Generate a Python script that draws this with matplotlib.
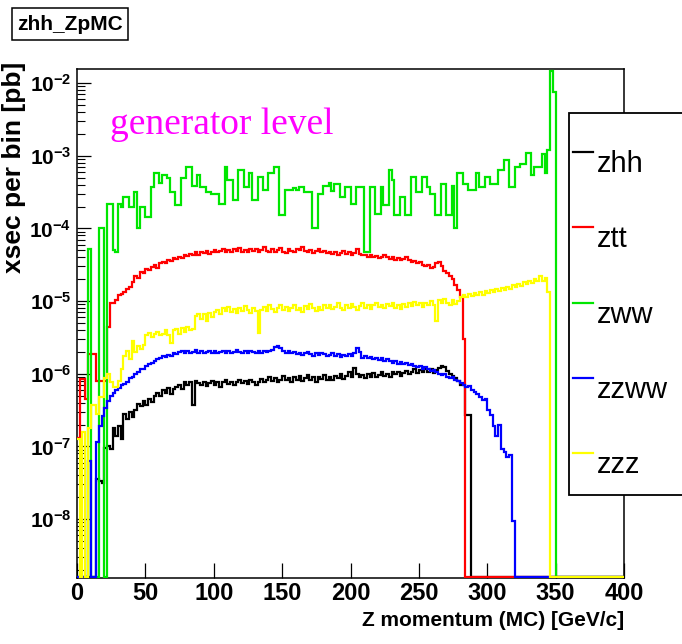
import numpy as np
import matplotlib
matplotlib.use("Agg")
import matplotlib.pyplot as plt
from matplotlib import font_manager as fm
from matplotlib.ticker import FixedLocator, NullLocator, NullFormatter, FuncFormatter
from matplotlib.patches import Rectangle
from matplotlib.lines import Line2D

# ---------------------------------------------------------------- data
BIN_WIDTH = 2.0          # GeV/c per bin
N_BINS = 200             # 0 .. 400 GeV/c
edges = np.arange(N_BINS + 1) * BIN_WIDTH

series_names = ["zhh", "ztt", "zww", "zzww", "zzz"]
series_colors = ["#000000", "#ff0000", "#00e600", "#0000ff", "#ffff00"]

# log10(xsec per bin [pb]) for consecutive 2 GeV/c bins starting at 0; None = empty bin
zhh_log10 = [
    None, None, None, None, None, None, None, -7.45, -7.48, -7.50,
    -7.02, -7.00, -7.04, -6.75, -6.85, -6.72, -6.90, -6.55, -6.62, -6.52,
    -6.60, -6.50, -6.42, -6.45, -6.38, -6.43, -6.35, -6.39, -6.30, -6.26,
    -6.31, -6.22, -6.26, -6.20, -6.28, -6.21, -6.18, -6.15, -6.21, -6.12,
    -6.16, -6.12, -6.43, -6.10, -6.13, -6.16, -6.12, -6.17, -6.13, -6.10,
    -6.15, -6.11, -6.18, -6.12, -6.09, -6.14, -6.11, -6.16, -6.12, -6.08,
    -6.13, -6.10, -6.14, -6.09, -6.12, -6.16, -6.11, -6.07, -6.12, -6.09,
    -6.04, -6.10, -6.06, -6.12, -6.08, -6.03, -6.09, -6.06, -6.11, -6.05,
    -6.08, -6.03, -6.10, -6.06, -6.02, -6.08, -6.05, -6.11, -6.04, -6.07,
    -6.02, -6.08, -6.04, -6.09, -6.03, -6.06, -6.01, -6.07, -6.03, -5.98,
    -6.04, -5.92, -6.00, -6.05, -6.02, -6.06, -6.01, -6.04, -5.99, -6.05,
    -6.02, -5.98, -6.03, -6.00, -6.04, -5.97, -6.01, -5.98, -6.03, -5.99,
    -5.96, -6.01, -5.97, -5.94, -5.99, -5.95, -5.98, -5.93, -5.97, -5.94,
    -5.99, -5.95, -5.92, -5.90, -5.91, -5.96, -6.00, -6.03, -6.06, -6.10,
    -6.15, -6.15, -6.57, -6.57,
]

ztt_log10 = [
    -6.88, -6.07, -6.07, -6.35, -5.73, -5.73, -5.73, -6.10, -6.10, -6.10,
    -6.10, -5.35, -5.03, -5.02, -4.98, -4.92, -4.90, -4.88, -4.84, -4.80,
    -4.74, -4.66, -4.68, -4.60, -4.62, -4.56, -4.57, -4.53, -4.51, -4.54,
    -4.48, -4.46, -4.47, -4.43, -4.45, -4.41, -4.42, -4.39, -4.41, -4.37,
    -4.38, -4.35, -4.37, -4.33, -4.36, -4.32, -4.34, -4.31, -4.35, -4.32,
    -4.30, -4.33, -4.31, -4.28, -4.32, -4.30, -4.33, -4.29, -4.31, -4.27,
    -4.32, -4.30, -4.33, -4.28, -4.31, -4.29, -4.33, -4.30, -4.25, -4.31,
    -4.33, -4.28, -4.32, -4.30, -4.27, -4.32, -4.34, -4.29, -4.31, -4.33,
    -4.28, -4.30, -4.26, -4.31, -4.33, -4.30, -4.34, -4.31, -4.29, -4.33,
    -4.31, -4.34, -4.32, -4.35, -4.33, -4.36, -4.34, -4.31, -4.35, -4.33,
    -4.36, -4.34, -4.28, -4.35, -4.37, -4.36, -4.39, -4.37, -4.40, -4.38,
    -4.41, -4.39, -4.36, -4.40, -4.42, -4.40, -4.43, -4.41, -4.44, -4.42,
    -4.40, -4.44, -4.46, -4.45, -4.48, -4.46, -4.50, -4.52, -4.51, -4.54,
    -4.53, -4.48, -4.46, -4.52, -4.58, -4.62, -4.66, -4.70, -4.78, -4.85,
    -4.95, -5.52,
]

zww_log10 = [
    None, None, None, None, -4.29, None, None, None, -4.00, -4.00,
    None, -3.66, -3.66, -4.30, -4.33, -3.66, -3.70, -3.57, -3.57, -3.71,
    -3.71, -3.50, -3.99, -3.71, -3.71, -3.85, -3.85, -3.43, -3.24, -3.24,
    -3.37, -3.27, -3.27, -3.30, -3.50, -3.50, -3.68, -3.68, -3.31, -3.31,
    -3.16, -3.16, -3.41, -3.41, -3.27, -3.43, -3.43, -3.50, -3.50, -3.52,
    -3.52, -3.52, -3.66, -3.66, -3.16, -3.33, -3.33, -3.61, -3.61, -3.20,
    -3.20, -3.43, -3.43, -3.24, -3.61, -3.61, -3.29, -3.29, -3.47, -3.47,
    -3.24, -3.24, -3.16, -3.16, -3.82, -3.82, -3.47, -3.47, -3.47, -3.45,
    -3.47, -3.43, -3.43, -3.50, -3.50, -3.50, -4.00, -4.00, -3.52, -3.52,
    -3.41, -3.41, -3.38, -3.48, -3.39, -3.39, -3.57, -3.57, -3.43, -3.43,
    -3.66, -3.66, -3.43, -3.43, -3.43, -4.33, -4.33, -3.43, -3.43, -3.80,
    -3.80, -3.43, -3.68, -3.68, -3.20, -3.33, -3.82, -3.82, -3.57, -3.57,
    -3.82, -3.82, -3.29, -3.29, -3.50, -3.50, -3.29, -3.29, -3.43, -3.52,
    -3.52, -3.82, -3.82, -3.39, -3.39, -3.82, -3.82, -3.41, -4.00, -3.24,
    -3.24, -3.39, -3.39, -3.47, -3.47, -3.47, -3.24, -3.43, -3.43, -3.29,
    -3.29, -3.39, -3.39, -3.39, -3.20, -3.20, -3.06, -3.06, -3.43, -3.43,
    -3.16, -3.16, -3.11, -3.11, -2.96, -2.96, -3.27, -3.16, -3.16, -3.16,
    -2.98, -3.24, -2.92, -1.84, -2.12,
]

zzww_log10 = [
    None, None, None, None, -7.20, None, None, -6.94, -6.72, -6.58,
    -6.47, -6.38, -6.30, -6.27, -6.22, -6.20, -6.16, -6.14, -6.11, -6.06,
    -6.04, -6.00, -5.98, -5.94, -5.93, -5.90, -5.87, -5.85, -5.82, -5.80,
    -5.78, -5.76, -5.77, -5.74, -5.75, -5.72, -5.73, -5.70, -5.68, -5.71,
    -5.69, -5.72, -5.70, -5.67, -5.71, -5.69, -5.72, -5.70, -5.68, -5.71,
    -5.69, -5.72, -5.70, -5.68, -5.71, -5.69, -5.72, -5.70, -5.67, -5.70,
    -5.72, -5.69, -5.71, -5.68, -5.70, -5.72, -5.69, -5.71, -5.68, -5.70,
    -5.69, -5.67, -5.63, -5.62, -5.64, -5.68, -5.71, -5.69, -5.72, -5.70,
    -5.73, -5.71, -5.74, -5.72, -5.70, -5.73, -5.75, -5.72, -5.74, -5.71,
    -5.73, -5.76, -5.74, -5.72, -5.75, -5.73, -5.77, -5.74, -5.76, -5.73,
    -5.75, -5.72, -5.65, -5.70, -5.78, -5.76, -5.79, -5.77, -5.80, -5.78,
    -5.81, -5.79, -5.83, -5.80, -5.82, -5.85, -5.83, -5.86, -5.84, -5.87,
    -5.85, -5.88, -5.87, -5.89, -5.91, -5.90, -5.93, -5.91, -5.94, -5.96,
    -5.95, -5.98, -6.00, -6.02, -6.01, -6.04, -6.06, -6.05, -6.08, -6.10,
    -6.13, -6.15, -6.18, -6.17, -6.22, -6.25, -6.28, -6.32, -6.36, -6.35,
    -6.50, -6.57, -6.72, -6.85, -6.70, -7.04, -7.08, -7.15, -7.12, -8.02,
]

zzz_log10 = [
    -6.90, None, -6.80, None, -6.75, -6.43, -6.43, -6.55, -6.32, -6.32,
    -6.06, -6.00, -6.12, -6.18, -6.18, -6.10, -5.93, -5.75, -5.69, -5.80,
    -5.55, -5.70, -5.62, -5.66, -5.60, -5.47, -5.44, -5.50, -5.45, -5.42,
    -5.47, -5.45, -5.40, -5.46, -5.58, -5.40, -5.38, -5.45, -5.37, -5.43,
    -5.35, -5.40, -5.38, -5.21, -5.18, -5.25, -5.18, -5.28, -5.16, -5.22,
    -5.15, -5.12, -5.18, -5.10, -5.14, -5.08, -5.15, -5.11, -5.17, -5.09,
    -5.13, -5.07, -5.12, -5.16, -5.10, -5.14, -5.44, -5.12, -5.08, -5.13,
    -5.06, -5.11, -5.15, -5.09, -5.05, -5.12, -5.08, -5.14, -5.10, -5.06,
    -5.12, -5.09, -5.15, -5.07, -5.11, -5.04, -5.10, -5.13, -5.08, -5.12,
    -5.06, -5.10, -5.05, -5.11, -5.08, -5.03, -5.09, -5.12, -5.06, -5.10,
    -5.04, -5.08, -5.12, -5.07, -5.03, -5.09, -5.05, -5.11, -5.06, -5.02,
    -5.08, -5.05, -5.10, -5.04, -5.07, -5.02, -5.09, -5.05, -5.11, -5.04,
    -5.08, -5.03, -5.07, -5.01, -5.06, -5.03, -5.08, -5.02, -5.05, -5.00,
    -5.06, -5.28, -4.98, -5.03, -4.97, -5.02, -5.05, -4.99, -5.04, -5.00,
    -4.94, -4.92, -4.95, -4.90, -4.93, -4.89, -4.92, -4.88, -4.91, -4.86,
    -4.89, -4.85, -4.88, -4.83, -4.86, -4.82, -4.85, -4.80, -4.83, -4.78,
    -4.81, -4.76, -4.79, -4.74, -4.77, -4.72, -4.75, -4.70, -4.73, -4.66,
    -4.72, -4.68, -4.88,
]

series_log10 = [zhh_log10, ztt_log10, zww_log10, zzww_log10, zzz_log10]

x_ticks = [0, 50, 100, 150, 200, 250, 300, 350, 400]
y_decades = [-8, -7, -6, -5, -4, -3, -2]
x_label = "Z momentum (MC) [GeV/c]"
y_label = "xsec per bin [pb]"
title_text = "zhh_ZpMC"
note_text = "generator level"

Y_MIN = 10 ** -8.81
Y_MAX = 10 ** -1.807


# ---------------------------------------------------------------- fonts
def font_available(name):
    try:
        fm.findfont(fm.FontProperties(family=name), fallback_to_default=False)
        return True
    except Exception:
        return False


NARROW = "Liberation Sans Narrow" if font_available("Liberation Sans Narrow") else "Liberation Sans"
SANS = "Liberation Sans"
SERIF = "Liberation Serif"

plt.rcParams["font.family"] = [SANS, "DejaVu Sans"]
plt.rcParams["mathtext.fontset"] = "custom"
plt.rcParams["mathtext.rm"] = NARROW
plt.rcParams["mathtext.bf"] = NARROW + ":bold"


# ---------------------------------------------------------------- figure
W, H = 682, 644
fig = plt.figure(figsize=(W / 100, H / 100), dpi=100)
fig.patch.set_facecolor("white")


def fx(px):
    return px / W


def fy(py):
    return 1 - py / H


ax = fig.add_axes([fx(77), fy(578), fx(624) - fx(77), fy(69) - fy(578)])
ax.set_yscale("log")
ax.set_xlim(0, 400)
ax.set_ylim(Y_MIN, Y_MAX)


def bin_values(log_list):
    vals = np.full(N_BINS, np.nan)
    for i, v in enumerate(log_list):
        if v is not None:
            vals[i] = 10.0 ** v
    # empty bins run along the bottom of the frame
    vals[np.isnan(vals)] = Y_MIN * 1.04
    return vals


for k, (name, color, logs) in enumerate(zip(series_names, series_colors, series_log10)):
    ax.stairs(bin_values(logs), edges, baseline=None, color=color,
              linewidth=1.6, zorder=3 + k)

# axes frame and ticks
for sp in ax.spines.values():
    sp.set_linewidth(1.1)
    sp.set_zorder(2)

ax.xaxis.set_major_locator(FixedLocator(x_ticks))
ax.xaxis.set_minor_locator(NullLocator())
ax.yaxis.set_major_locator(FixedLocator([10.0 ** d for d in y_decades]))
minor_y = [m * 10.0 ** d for d in range(-9, -1) for m in range(2, 10)
           if Y_MIN <= m * 10.0 ** d <= Y_MAX]
ax.yaxis.set_minor_locator(FixedLocator(minor_y))
ax.yaxis.set_minor_formatter(NullFormatter())
ax.yaxis.set_major_formatter(FuncFormatter(lambda v, p: r"$\mathbf{10^{%d}}$" % round(np.log10(v))))

ax.tick_params(axis="x", which="major", direction="in", length=11, width=0.9,
               top=False, pad=3, labelsize=17)
ax.tick_params(axis="y", which="major", direction="in", length=10, width=0.9,
               right=False, pad=4, labelsize=15)
ax.tick_params(axis="y", which="minor", direction="in", length=5.5, width=0.8, right=False)
for lab in ax.get_xticklabels():
    lab.set_fontfamily(NARROW)
    lab.set_fontweight("bold")

# axis titles
fig.text(fx(624), fy(621), x_label, ha="right", va="center", fontsize=15,
         fontweight="bold", family=NARROW)
fig.text(fx(14), fy(62), y_label, ha="center", va="top", rotation=90, fontsize=19,
         fontweight="bold", family=SANS)

# annotation inside the frame
fig.text(fx(110), fy(134), note_text, ha="left", va="baseline", fontsize=27,
         color="#ff00ff", family=SERIF)

# histogram title box
fig.patches.append(Rectangle((fx(12), fy(40)), fx(128) - fx(12), fy(8) - fy(40),
                             transform=fig.transFigure, facecolor="white",
                             edgecolor="black", linewidth=1.1, zorder=5))
fig.text(fx(70), fy(24), title_text, ha="center", va="center", fontsize=15,
         fontweight="bold", family=NARROW, zorder=6)

# legend box
fig.patches.append(Rectangle((fx(569), fy(495)), fx(700) - fx(569), fy(113) - fy(495),
                             transform=fig.transFigure, facecolor="white",
                             edgecolor="black", linewidth=1.3, zorder=10))
for i, (name, color) in enumerate(zip(series_names, series_colors)):
    base = 172 + 75.3 * i
    fig.lines.append(Line2D([fx(573), fx(593)], [fy(base - 20), fy(base - 20)],
                            transform=fig.transFigure, color=color, linewidth=1.6,
                            zorder=11))
    fig.text(fx(597), fy(base), name, ha="left", va="baseline", fontsize=21,
             family=SANS, zorder=12)

fig.savefig("out.png", dpi=100)
